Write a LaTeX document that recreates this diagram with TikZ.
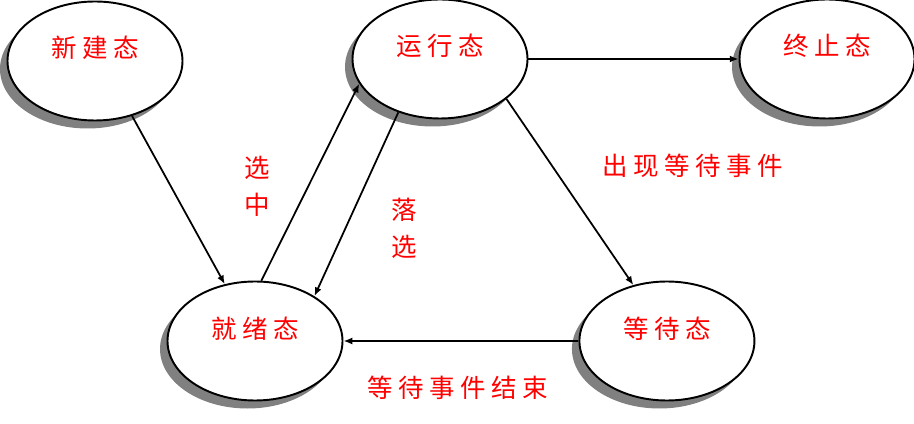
\documentclass[tikz,border=0pt]{standalone}
\usepackage{fontspec}
\newfontfamily\cjk[LetterSpace=22]{Noto Sans CJK SC}
\usetikzlibrary{shapes, arrows.meta, positioning, shadows}

\begin{document}
\begin{tikzpicture}[
        state/.style={ellipse, draw=black, line width=1.1pt, fill=white, minimum width=3.5cm, minimum height=2.38cm, text=red, font=\fontsize{14.5pt}{17pt}\selectfont\cjk, text height=0.42cm, text depth=0.54cm, drop shadow={shadow xshift=-0.15cm, shadow yshift=-0.16cm, fill=gray, opacity=1}},
        lbl/.style={text=red, align=center, font=\fontsize{14.5pt}{21pt}\selectfont\cjk},
        arr/.style={line width=1pt, -{Latex[length=5pt, width=4pt]}}
    ]
        \useasboundingbox (0,0) rectangle (18.28,8.46);
        \node[state] (new) at (1.90,7.24) {新建态};
        \node[state] (run) at (8.80,7.28) {运行态};
        \node[state] (term) at (16.54,7.28) {终止态};
        \node[state] (ready) at (5.10,1.64) {就绪态};
        \node[state, right=4.7cm of ready] (wait) {等待态};
        
        \draw[arr] (new.-56) -- (ready.118);
        \draw[arr] (ready.84) -- (run.197);
        \draw[arr] (run.232) -- (ready.37);
        \draw[arr] (run.east) -- (term.west);
        \draw[arr] (run.-31) -- (wait.121);
        \draw[arr] (wait.west) -- (ready.east);
        
        \node[lbl] (xz) at (5.14,4.74) {选\\中};
        \node[lbl] (lx) at (8.08,3.90) {落\\选};
        \node[lbl] (cx) at (13.86,5.14) {出现等待事件};
        \node[lbl] (js) at (9.16,0.70) {等待事件结束};
    \end{tikzpicture}
\end{document}
